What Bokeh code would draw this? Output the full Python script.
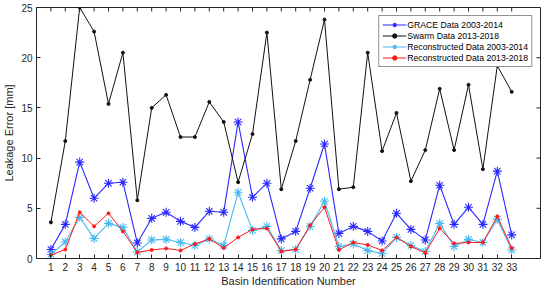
import math
from bokeh.plotting import figure
from bokeh.models import FixedTicker, Range1d, Legend, LegendItem
from bokeh.embed import file_html
from bokeh.resources import INLINE

basins = list(range(1, 34))
grace = [0.9, 3.4, 9.6, 6.0, 7.5, 7.6, 1.55, 4.0, 4.6, 3.7, 3.1, 4.7, 4.6, 13.6, 6.1, 7.5, 1.95,
         2.7, 7.0, 11.4, 2.5, 3.2, 2.7, 1.75, 4.5, 2.9, 1.85, 7.3, 3.4, 5.1, 3.4, 8.7, 2.35]
swarm = [3.6, 11.7, 25.0, 22.6, 15.4, 20.5, 5.8, 15.0, 16.3, 12.1, 12.1, 15.6, 13.6, 7.6, 12.4,
         22.5, 6.9, 11.7, 17.8, 23.8, 6.9, 7.1, 20.5, 10.7, 14.5, 7.7, 10.8, 16.9, 10.8, 17.3,
         8.9, 19.2, 16.6]
recon_grace = [0.4, 1.65, 4.1, 2.0, 3.5, 3.1, 0.65, 1.85, 1.9, 1.6, 1.3, 1.95, 1.3, 6.6, 2.8, 3.2,
               0.8, 0.9, 3.2, 5.7, 1.2, 1.45, 0.8, 0.5, 2.1, 1.3, 0.7, 3.5, 1.2, 1.9, 1.6, 3.9, 0.85]
recon_swarm = [0.35, 0.9, 4.6, 3.2, 4.5, 2.7, 0.6, 0.85, 1.0, 0.8, 1.45, 1.95, 1.05, 2.1, 2.9, 3.0,
               0.7, 0.9, 3.3, 5.1, 0.85, 1.6, 1.35, 0.8, 2.1, 1.2, 0.55, 3.0, 1.5, 1.6, 1.6, 4.2, 1.05]
y_ticks = [0, 5, 10, 15, 20, 25]
X_MIN, X_MAX = 0, 35
Y_MIN, Y_MAX = 0, 25

FONT = "Liberation Sans"
AX = "#262626"

p = figure(width=542, height=289, output_backend="svg", toolbar_location=None,
           x_range=Range1d(X_MIN, X_MAX), y_range=Range1d(Y_MIN, Y_MAX),
           min_border_left=2, min_border_right=2, min_border_top=7, min_border_bottom=0)
p.xgrid.visible = False
p.ygrid.visible = False
p.outline_line_color = AX
p.outline_line_width = 1

for ax in (p.xaxis[0], p.yaxis[0]):
    ax.axis_line_color = AX
    ax.major_tick_line_color = AX
    ax.minor_tick_line_color = None
    ax.major_tick_in = 4
    ax.major_tick_out = 0
    ax.major_label_text_font = FONT
    ax.major_label_text_color = AX
    ax.major_label_text_font_size = "10px"
    ax.axis_label_text_font = FONT
    ax.axis_label_text_font_style = "normal"
    ax.axis_label_text_color = AX
    ax.axis_label_text_font_size = "11px"

p.xaxis.ticker = FixedTicker(ticks=basins)
p.yaxis.ticker = FixedTicker(ticks=y_ticks)
p.xaxis.axis_label = "Basin Identification Number"
p.yaxis.axis_label = "Leakage Error [mm]"
p.xaxis.major_label_standoff = 4
p.xaxis.axis_label_standoff = 1
p.yaxis.major_label_standoff = 4
p.yaxis.axis_label_standoff = 3

# mirrored ticks on top and right edges (clipped to the frame -> inward ticks)
p.scatter(basins, [Y_MAX] * len(basins), marker="dash", angle=math.pi / 2, size=8,
          line_color=AX, line_width=1)
p.scatter([X_MAX] * len(y_ticks), y_ticks, marker="dash", size=8, line_color=AX, line_width=1)

BLUE = "#2828ff"
CYAN = "#45baf0"
RED = "#ff1a1a"
BLACK = "#111111"

l1 = p.line(basins, grace, line_color=BLUE, line_width=1.1)
m1 = p.scatter(basins, grace, marker="asterisk", size=9, line_color=BLUE, line_width=1.1)
l2 = p.line(basins, swarm, line_color=BLACK, line_width=1)
m2 = p.scatter(basins, swarm, marker="circle", size=3, fill_color=BLACK, line_color=BLACK)
l3 = p.line(basins, recon_grace, line_color=CYAN, line_width=1.1)
m3 = p.scatter(basins, recon_grace, marker="asterisk", size=9, line_color=CYAN, line_width=1.1)
l4 = p.line(basins, recon_swarm, line_color=RED, line_width=1)
m4 = p.scatter(basins, recon_swarm, marker="circle", size=3, fill_color=RED, line_color=RED)

legend = Legend(items=[
    LegendItem(label="GRACE Data 2003-2014", renderers=[l1, m1]),
    LegendItem(label="Swarm Data 2013-2018", renderers=[l2, m2]),
    LegendItem(label="Reconstructed Data 2003-2014", renderers=[l3, m3]),
    LegendItem(label="Reconstructed Data 2013-2018", renderers=[l4, m4]),
], location="top_right")
legend.margin = 8
legend.padding = 3
legend.spacing = 0
legend.label_height = 11
legend.glyph_height = 11
legend.glyph_width = 24
legend.label_standoff = 1
legend.label_text_font = FONT
legend.label_text_font_size = "8.7px"
legend.label_text_color = "#000000"
legend.border_line_color = AX
legend.border_line_width = 1
legend.background_fill_color = "white"
legend.background_fill_alpha = 1
p.add_layout(legend, "center")

open("out.html", "w").write(file_html(p, INLINE))
